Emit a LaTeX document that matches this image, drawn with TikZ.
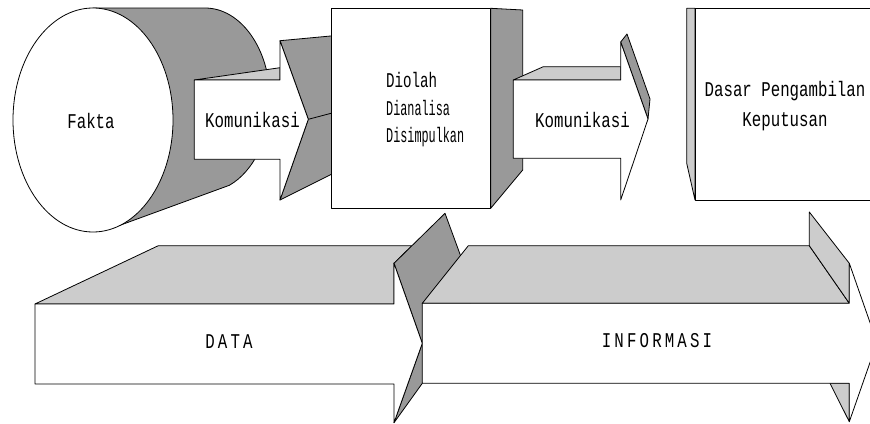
\documentclass[tikz,border=0pt]{standalone}
\usepackage{fontspec}
\newfontfamily\lblfont[FakeStretch=0.75]{Liberation Mono}
\newfontfamily\lblwfont[FakeStretch=0.75,LetterSpace=15]{Liberation Mono}
\definecolor{darkg}{HTML}{999999}
\definecolor{lightg}{HTML}{CCCCCC}
\tikzset{
  outl/.style={draw=black, line width=0.8pt, line join=round},
  dark/.style={outl, fill=darkg},
  light/.style={outl, fill=lightg},
  face/.style={outl, fill=white},
  lbl/.style={font=\lblfont\fontsize{21}{27.5}\selectfont, inner sep=0pt, text=black},
  lblw/.style={font=\lblwfont\fontsize{21}{27}\selectfont, inner sep=0pt, text=black}
}
\begin{document}
\begin{tikzpicture}[x=1pt,y=-1pt]
\useasboundingbox (0,0) rectangle (870,423);
\clip (0,0) rectangle (870,423);
% cylinder
\path[dark] (93,8) -- (205,8) arc[start angle=-90, end angle=68, x radius=65, y radius=92] -- (118,226) -- cycle;
\path[face] (93,120) ellipse[x radius=80, y radius=112];
\node[lbl] (fakta) at (91,121) {Fakta};
% arrow 1
\path[dark] (280,40.7) -- (336,35.5) -- (336,172) -- (280,200) -- (308.3,119.3) -- cycle;
\draw[outl] (308.3,119.3) -- (336,112);
\path[light] (194.3,80) -- (280,67.7) -- (280,80) -- cycle;
\path[face] (194.3,80) -- (280,80) -- (280,40.7) -- (308.3,119.3) -- (280,200) -- (280,159.3) -- (194.3,159.3) -- cycle;
\node[lbl] (kom1) at (252.5,120) {Komunikasi};
% box 1
\path[dark] (490.7,8.3) -- (522.7,10) -- (522.7,170) -- (490.7,208.3) -- cycle;
\path[face] (331.7,8.3) rectangle (490.7,208.3);
\node[lbl, align=left, anchor=west] (olah) at (386,110) {\scalebox{0.9}[1]{Diolah}\\\scalebox{0.75}[1]{Dianalisa}\\\scalebox{0.75}[1]{Disimpulkan}};
% arrow 2
\path[light] (513.3,80) -- (543.3,66.7) -- (620.7,66.7) -- (620.7,80) -- cycle;
\path[dark] (620.7,42) -- (627,34) -- (650,99) -- (648,119) -- cycle;
\path[face] (513.3,80) -- (620.7,80) -- (620.7,42) -- (648,119) -- (620.7,200) -- (620.7,158.3) -- (513.3,158.3) -- cycle;
\node[lbl] (kom2) at (582.5,120) {Komunikasi};
% box 2
\path[light] (686.7,8.3) -- (695,8.3) -- (695,200) -- (686.7,163.3) -- cycle;
\path[face] (695,8.3) rectangle (885,200);
\node[lbl, font=\lblfont\fontsize{21}{30}\selectfont, align=center] (dasar) at (785,106) {Dasar Pengambilan\\Keputusan};
% DATA arrow
\path[light] (35,304) -- (158.3,245.7) -- (412,245.7) -- (394,263.3) -- (394,304) -- cycle;
\path[dark] (394,263.3) -- (445,213.3) -- (475,295) -- (430,372.6) -- (394,422.7) -- (422.3,343.3) -- cycle;
\path[face] (35,304) -- (394,304) -- (394,263.3) -- (422.3,343.3) -- (394,422.7) -- (394,384) -- (35,384) -- cycle;
\node[lblw] (data) at (229,342) {DATA};
% INFORMASI arrow
\path[light] (422.3,303.3) -- (468.3,245.7) -- (809.3,245.7) -- (849.3,303.3) -- cycle;
\path[light] (809.3,212) -- (849.3,263.3) -- (849.3,303.3) -- (809.3,245.7) -- cycle;
\path[light] (830,383.3) -- (849.3,383.3) -- (849.3,421.7) -- cycle;
\path[face] (422.3,303.3) -- (849.3,303.3) -- (849.3,263.3) -- (877,342.5) -- (849.3,421.7) -- (849.3,383.3) -- (422.3,383.3) -- cycle;
\node[lblw] (info) at (657,341) {INFORMASI};
\end{tikzpicture}
\end{document}
